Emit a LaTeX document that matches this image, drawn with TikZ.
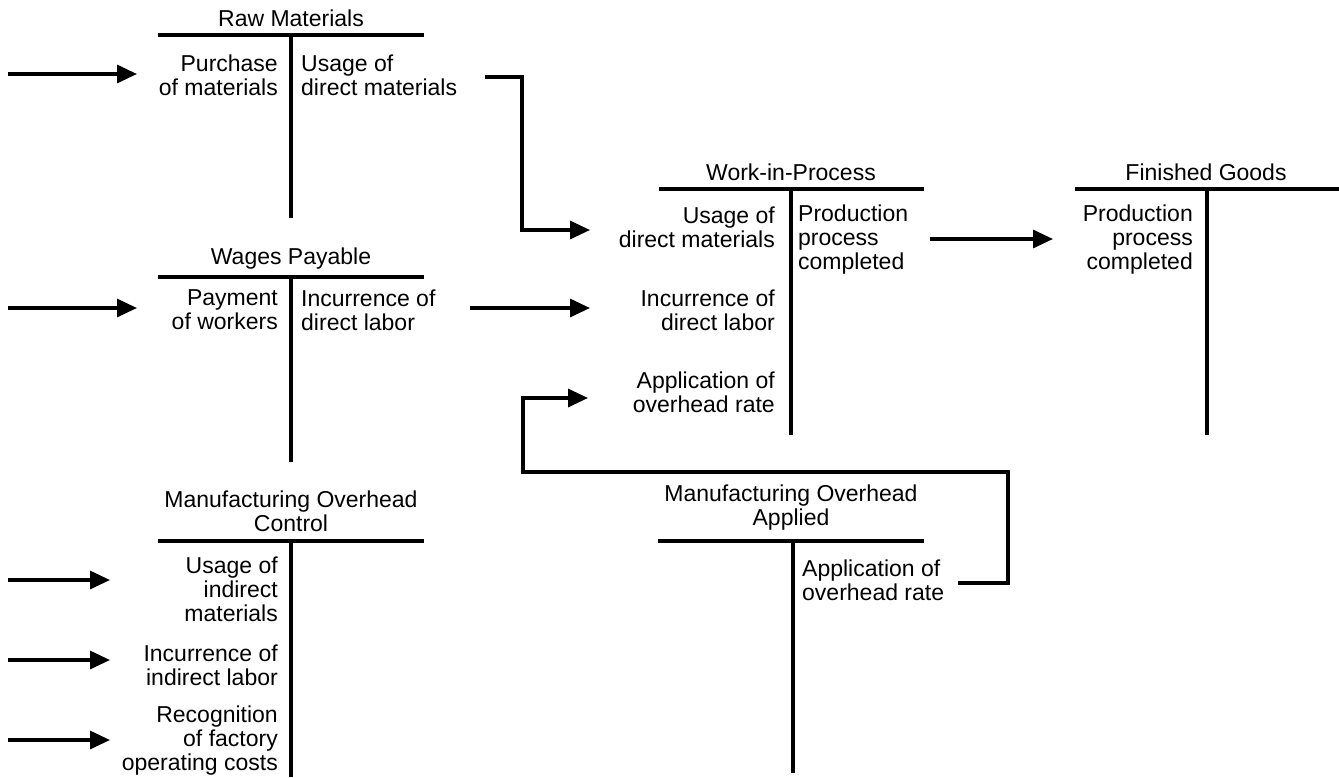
\documentclass[tikz,border=0pt]{standalone}
\usepackage{fontspec}
\setmainfont{Liberation Sans}
\usetikzlibrary{arrows.meta}
\begin{document}
\begin{tikzpicture}[x=1pt,y=-1pt,
  every node/.style={inner sep=0pt,font=\fontsize{23}{24}\selectfont},
  tbar/.style={line width=4.5pt},
  lt/.style={anchor=east,align=right},
  rt/.style={anchor=west,align=left},
  ttl/.style={anchor=center,align=center},
  flow/.style={line width=3.2pt,-{Triangle[length=20pt,width=18pt]}},
  link/.style={line width=3.2pt},
]
\useasboundingbox (0,0) rectangle (1339,777);
% ---- Raw Materials
\node[ttl] (rmT) at (291,18) {Raw Materials};
\coordinate (rmL) at (158,35); \coordinate (rmR) at (424,35);
\coordinate (rmTop) at (291,35); \coordinate (rmBot) at (291,218);
\draw[tbar] (rmL) -- (rmR); \draw[tbar] (rmTop) -- (rmBot);
\node[lt] (rmDr) at (278,75) {Purchase\\of materials};
\node[rt] (rmCr) at (301,75) {Usage of\\direct materials};
% ---- Wages Payable
\node[ttl] (wpT) at (291,259) {Wages Payable};
\coordinate (wpL) at (158,277); \coordinate (wpR) at (424,277);
\coordinate (wpTop) at (291,277); \coordinate (wpBot) at (291,462);
\draw[tbar] (wpL) -- (wpR); \draw[tbar] (wpTop) -- (wpBot);
\node[lt] (wpDr) at (278,310) {Payment\\of workers};
\node[rt] (wpCr) at (301,310) {Incurrence of\\direct labor};
% ---- Work-in-Process
\node[ttl] (wipT) at (791,172) {Work-in-Process};
\coordinate (wipL) at (659,189); \coordinate (wipR) at (924,189);
\coordinate (wipTop) at (791,189); \coordinate (wipBot) at (791,435);
\draw[tbar] (wipL) -- (wipR); \draw[tbar] (wipTop) -- (wipBot);
\node[lt] (wipDm) at (775,227) {Usage of\\direct materials};
\node[lt] (wipDl) at (775,310) {Incurrence of\\direct labor};
\node[lt] (wipOh) at (775,392) {Application of\\overhead rate};
\node[rt] (wipCr) at (798,240) {Production\\process\\completed};
% ---- Finished Goods
\node[ttl] (fgT) at (1206,172) {Finished Goods};
\coordinate (fgL) at (1075,189); \coordinate (fgR) at (1339,189);
\coordinate (fgTop) at (1207,189); \coordinate (fgBot) at (1207,435);
\draw[tbar] (fgL) -- (fgR); \draw[tbar] (fgTop) -- (fgBot);
\node[lt] (fgDr) at (1193,240) {Production\\process\\completed};
% ---- Manufacturing Overhead Control
\node[ttl] (mocT) at (291,511) {Manufacturing Overhead\\Control};
\coordinate (mocL) at (158,541); \coordinate (mocR) at (424,541);
\coordinate (mocTop) at (291,541); \coordinate (mocBot) at (291,777);
\draw[tbar] (mocL) -- (mocR); \draw[tbar] (mocTop) -- (mocBot);
\node[lt] (mocA) at (278,589) {Usage of\\indirect\\materials};
\node[lt] (mocB) at (278,665) {Incurrence of\\indirect labor};
\node[lt] (mocC) at (278,741) {Recognition\\of factory\\operating costs};
% ---- Manufacturing Overhead Applied
\node[ttl] (moaT) at (791,508) {Manufacturing Overhead\\Applied};
\coordinate (moaL) at (658,541); \coordinate (moaR) at (924,541);
\coordinate (moaTop) at (793,541); \coordinate (moaBot) at (793,773);
\draw[tbar] (moaL) -- (moaR); \draw[tbar] (moaTop) -- (moaBot);
\node[rt] (moaCr) at (802,580) {Application of\\overhead rate};
% ---- connectors
\coordinate (inRM0) at (8,74);   \coordinate (inRM1) at (137,74);
\coordinate (inWP0) at (8,308);  \coordinate (inWP1) at (137,308);
\coordinate (inA0) at (8,580);   \coordinate (inA1) at (110,580);
\coordinate (inB0) at (8,660);   \coordinate (inB1) at (110,660);
\coordinate (inC0) at (8,740);   \coordinate (inC1) at (110,740);
\draw[flow] (inRM0) -- (inRM1);
\draw[flow] (inWP0) -- (inWP1);
\draw[flow] (inA0) -- (inA1);
\draw[flow] (inB0) -- (inB1);
\draw[flow] (inC0) -- (inC1);
\coordinate (dmS) at (485,77); \coordinate (dmE) at (590,230);
\draw[flow] (dmS) -- (522,77) -- (522,230) -- (dmE);
\coordinate (dlS) at (470,308); \coordinate (dlE) at (590,308);
\draw[flow] (dlS) -- (dlE);
\coordinate (fgS) at (930,239); \coordinate (fgE) at (1053,239);
\draw[flow] (fgS) -- (fgE);
\coordinate (ohS) at (958,583); \coordinate (ohE) at (588,398);
\draw[flow] (ohS) -- (1008,583) -- (1008,472) -- (523,472) -- (523,398) -- (ohE);
\end{tikzpicture}
\end{document}
